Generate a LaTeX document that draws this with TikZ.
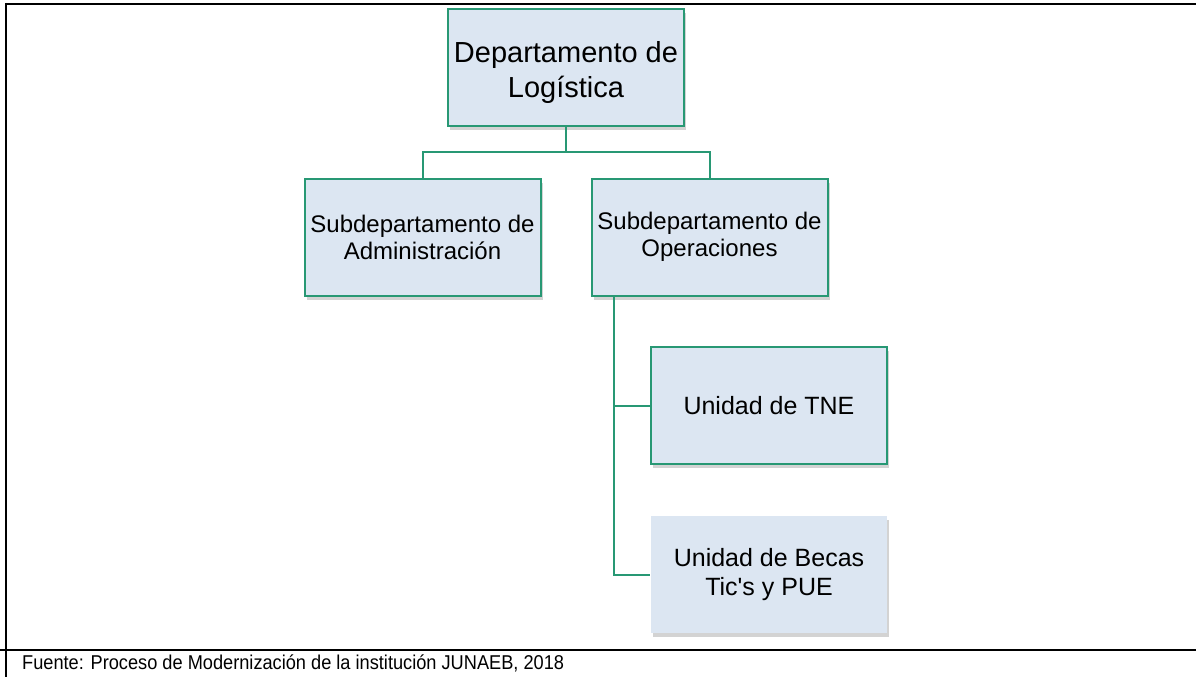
\documentclass[tikz,border=0pt]{standalone}
\usepackage{fontspec}
\setmainfont{Liberation Sans}
\usetikzlibrary{positioning,shadows}

\definecolor{orggreen}{RGB}{40,152,116}
\definecolor{orgfill}{RGB}{220,230,242}

\tikzset{
  unit/.style={rectangle,fill=orgfill,draw=orggreen,line width=2pt,
    minimum width=236pt,minimum height=117pt,align=center,
    drop shadow={shadow xshift=2pt,shadow yshift=-4pt,opacity=0.35}},
  link/.style={draw=orggreen,line width=2pt}
}

\begin{document}
\begin{tikzpicture}[x=1pt,y=-1pt]
  \useasboundingbox (0,0) rectangle (1196,677);
  % frame
  \draw[line width=2pt] (5,4)--(1196,4);
  \draw[line width=2pt] (0,650)--(1196,650);
  \draw[line width=2pt] (6,3)--(6,677);
  % boxes
  \coordinate (D) at (566,67.5);
  \coordinate (A) at (422.5,237);
  \coordinate (O) at (709.5,237);
  \coordinate (T) at (769,405.5);
  \coordinate (B) at (769,574.5);
  \node[unit,font=\fontsize{29}{35}\selectfont] (dep) at (D)
    {\rule{0pt}{31pt}Departamento de\\Logística};
  \node[unit,font=\fontsize{24}{27}\selectfont] (adm) at (A) {Subdepartamento de\\Administración};
  \node[unit,font=\fontsize{24}{27}\selectfont] (ope) at (O) {Subdepartamento de\\Operaciones};
  \node[unit,font=\fontsize{25}{29}\selectfont] (tne) at (T) {Unidad de TNE};
  \node[unit,draw=none,font=\fontsize{25}{29}\selectfont] (bec) at (B) {Unidad de Becas\\Tic\textquotesingle s y PUE};
  % connectors
  \coordinate (J) at (566,152);
  \coordinate (V) at (614,574.5);
  \draw[link] (dep.south)--(J);
  \draw[link] (adm.north)|-(J)-|(ope.north);
  \draw[link] (ope.south-|V)--(V)--(bec.west);
  \draw[link] (tne.west)--(tne.west-|V);
  % source
  \node[anchor=base west,font=\fontsize{20}{24}\selectfont,inner sep=0pt] (src) at (22,669.3)
    {\scalebox{0.91}[1]{Fuente: Proceso de Modernización de la institución JUNAEB, 2018}};
\end{tikzpicture}
\end{document}
